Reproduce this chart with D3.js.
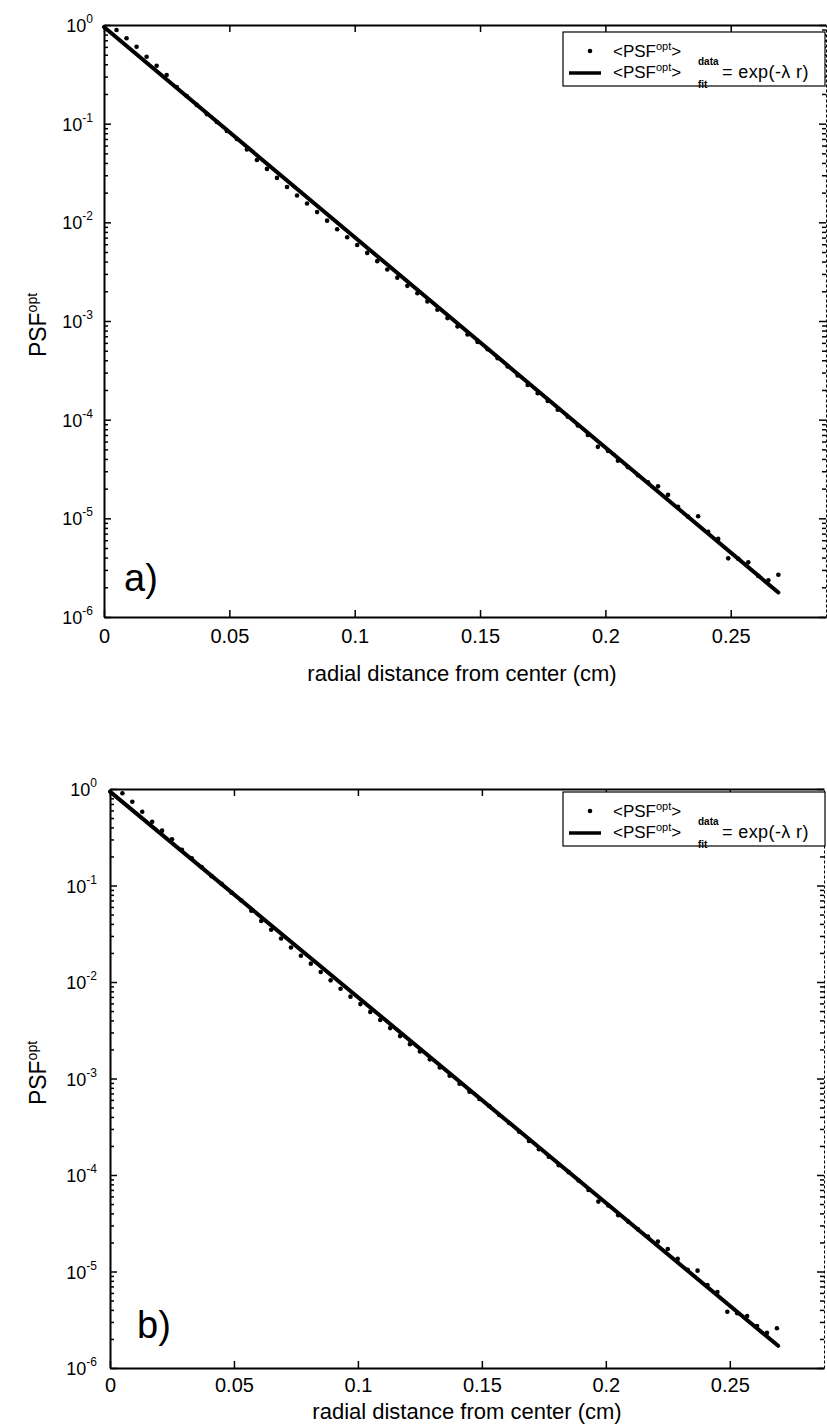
<!DOCTYPE html>
<html>
<head>
<meta charset="utf-8">
<script src="https://cdn.jsdelivr.net/npm/d3@7"></script>
<style>
  body { margin: 0; background: #fff; }
  svg { display: block; font-family: "Liberation Sans", Arial, sans-serif; }
</style>
</head>
<body>
<svg id="chart" width="827" height="1428"></svg>
<script>
// radial distance of each measured point (cm)
const radius = [0.005, 0.009, 0.013, 0.017, 0.021, 0.025, 0.029, 0.033, 0.037, 0.041, 0.045, 0.049,
  0.053, 0.057, 0.061, 0.065, 0.069, 0.073, 0.077, 0.081, 0.085, 0.089, 0.093, 0.097,
  0.101, 0.105, 0.109, 0.113, 0.117, 0.121, 0.125, 0.129, 0.133, 0.137, 0.141, 0.145,
  0.149, 0.153, 0.157, 0.161, 0.165, 0.169, 0.173, 0.177, 0.181, 0.185, 0.189, 0.193,
  0.197, 0.201, 0.205, 0.209, 0.213, 0.217, 0.221, 0.225, 0.229, 0.233, 0.237, 0.241,
  0.245, 0.249, 0.253, 0.257, 0.261, 0.265, 0.269];

// <PSF opt> data, panel a
const psfDataA = [0.890, 0.733, 0.603, 0.477, 0.387, 0.311, 0.235, 0.191, 0.155, 0.125, 0.104, 0.0843,
  0.0700, 0.0548, 0.0429, 0.0348, 0.0282, 0.0228, 0.0187, 0.0155, 0.0127, 0.0104, 0.00851, 0.00705,
  0.00590, 0.00490, 0.00404, 0.00333, 0.00275, 0.00227, 0.00191, 0.00158, 0.00130, 0.00107, 8.81e-4, 7.31e-4,
  6.14e-4, 5.18e-4, 4.19e-4, 3.46e-4, 2.81e-4, 2.25e-4, 1.85e-4, 1.55e-4, 1.26e-4, 1.07e-4, 8.75e-5, 7.01e-5,
  5.30e-5, 4.83e-5, 3.83e-5, 3.29e-5, 2.73e-5, 2.32e-5, 2.11e-5, 1.73e-5, 1.31e-5, 1.04e-5, 1.05e-5, 7.30e-6,
  6.19e-6, 3.93e-6, 3.89e-6, 3.58e-6, 2.61e-6, 2.36e-6, 2.68e-6];

// <PSF opt> data, panel b
const psfDataB = [0.902, 0.739, 0.582, 0.458, 0.370, 0.301, 0.235, 0.191, 0.155, 0.125, 0.104, 0.0843,
  0.0700, 0.0548, 0.0429, 0.0348, 0.0282, 0.0228, 0.0187, 0.0155, 0.0127, 0.0104, 0.00851, 0.00705,
  0.00590, 0.00490, 0.00404, 0.00333, 0.00275, 0.00227, 0.00191, 0.00158, 0.00130, 0.00107, 8.81e-4, 7.31e-4,
  6.14e-4, 5.18e-4, 4.19e-4, 3.46e-4, 2.81e-4, 2.25e-4, 1.85e-4, 1.55e-4, 1.26e-4, 1.07e-4, 8.75e-5, 7.01e-5,
  5.30e-5, 4.83e-5, 3.83e-5, 3.29e-5, 2.73e-5, 2.30e-5, 2.04e-5, 1.71e-5, 1.35e-5, 1.04e-5, 1.02e-5, 7.24e-6,
  6.14e-6, 3.83e-6, 3.70e-6, 3.46e-6, 2.72e-6, 2.31e-6, 2.58e-6];

// fitted exp(-lambda r), straight on the log axis
const fitRadiusA = [0, 0.269];
const psfFitA = [0.955, 1.77e-6];
const fitRadiusB = [0, 0.2695];
const psfFitB = [0.94, 1.70e-6];

const xTicks = [0, 0.05, 0.1, 0.15, 0.2, 0.25];
const xTickLabels = ['0', '0.05', '0.1', '0.15', '0.2', '0.25'];
const yExponents = [0, -1, -2, -3, -4, -5, -6];
const panelLabels = ['a)', 'b)'];
const xTitle = 'radial distance from center (cm)';

const svg = d3.select('#chart');
svg.append('rect').attr('width', 827).attr('height', 1428).attr('fill', '#fff');

function drawPanel(p) {
  const g = svg.append('g');
  const x = d3.scaleLinear().domain([0, 0.288]).range([p.left, p.right]);
  const y = d3.scaleLog().domain([1e-6, 1]).range([p.bottom, p.top]);
  const major = yExponents.map(e => Math.pow(10, e));
  const minor = y.ticks().filter(v => !major.some(m => Math.abs(Math.log10(v) - Math.log10(m)) < 1e-6));

  // frame + ticks (inward)
  const bottomAxis = g.append('g').attr('transform', `translate(0,${p.bottom})`)
    .call(d3.axisBottom(x).tickValues(xTicks).tickSize(-7).tickSizeOuter(0)
      .tickPadding(p.xPad).tickFormat((d, i) => xTickLabels[i]));
  bottomAxis.selectAll('text').attr('font-size', 20).attr('fill', '#000')
    .attr('font-family', '"Liberation Sans", Arial, sans-serif');
  g.append('g').attr('transform', `translate(0,${p.top})`)
    .call(d3.axisTop(x).tickValues(xTicks).tickSize(-7).tickSizeOuter(0).tickFormat(''));
  g.append('g').attr('transform', `translate(${p.left},0)`)
    .call(d3.axisLeft(y).tickValues(major).tickSize(-7).tickSizeOuter(0).tickFormat(''));
  g.append('g').attr('transform', `translate(${p.left},0)`)
    .call(d3.axisLeft(y).tickValues(minor).tickSize(-4).tickSizeOuter(0).tickFormat(''))
    .select('.domain').remove();
  const right = g.append('g').attr('transform', `translate(${p.right},0)`)
    .call(d3.axisRight(y).tickValues(major).tickSize(-7).tickSizeOuter(0).tickFormat(''));
  g.append('g').attr('transform', `translate(${p.right},0)`)
    .call(d3.axisRight(y).tickValues(minor).tickSize(-4).tickSizeOuter(0).tickFormat(''))
    .select('.domain').remove();
  g.selectAll('.domain').attr('stroke', '#000').attr('stroke-width', 2);
  right.select('.domain').attr('stroke-width', 1).attr('stroke-dasharray', '3,2');
  g.selectAll('.tick line').attr('stroke', '#000').attr('stroke-width', 1.5);

  // y tick labels 10^n
  const yl = g.append('g').selectAll('text').data(yExponents).enter().append('text')
    .attr('x', p.left - p.yGap).attr('y', d => y(Math.pow(10, d)) + 7)
    .attr('text-anchor', 'end').attr('font-size', 18).attr('fill', '#000');
  yl.append('tspan').text('10');
  yl.append('tspan').attr('dy', -9).attr('font-size', 12).text(d => d);

  // data points
  g.append('g').selectAll('circle').data(p.data).enter().append('circle')
    .attr('cx', (d, i) => x(radius[i])).attr('cy', d => y(d)).attr('r', 2.3).attr('fill', '#000');

  // fit line
  const line = d3.line().x(d => x(d[0])).y(d => y(d[1]));
  g.append('path').datum(p.fitR.map((r, i) => [r, p.fit[i]]))
    .attr('d', line).attr('fill', 'none').attr('stroke', '#000')
    .attr('stroke-width', 4).attr('stroke-linecap', 'round');

  // panel label
  g.append('text').attr('x', p.labelX).attr('y', p.labelY).attr('font-size', 38).text(p.label);

  // axis titles
  g.append('text').attr('x', p.xTitleX).attr('y', p.xTitleY).attr('text-anchor', 'middle')
    .attr('font-size', 22).text(xTitle);
  const yt = g.append('text').attr('transform', `translate(46,${p.yTitleY}) rotate(-90)`)
    .attr('text-anchor', 'middle').attr('font-size', 23);
  yt.append('tspan').text('PSF');
  yt.append('tspan').attr('dy', -9).attr('font-size', 14).text('opt');

  // legend
  const lg = g.append('g').attr('transform', `translate(563,${p.legendTop})`);
  lg.append('rect').attr('width', 262).attr('height', 54)
    .attr('fill', '#fff').attr('stroke', '#000').attr('stroke-width', 1.2);
  lg.append('circle').attr('cx', 27).attr('cy', 19).attr('r', 2.3).attr('fill', '#000');
  lg.append('line').attr('x1', 6).attr('x2', 38).attr('y1', 41).attr('y2', 41)
    .attr('stroke', '#000').attr('stroke-width', 3.5);
  const rows = [['data', 25, 8], ['fit', 46, 10]];
  rows.forEach(([sub, by, sdy]) => {
    const t = lg.append('text').attr('x', 50).attr('y', by).attr('font-size', 17);
    t.append('tspan').text('<PSF');
    t.append('tspan').attr('dy', -7).attr('font-size', 11).text('opt');
    t.append('tspan').attr('dy', 7).text('>');
    t.append('tspan').attr('x', 135).attr('dy', sdy)
      .attr('font-size', 10).attr('font-weight', 'bold').text(sub);
  });
  lg.append('text').attr('x', 159).attr('y', 46).attr('font-size', 18)
    .attr('letter-spacing', 0.4).text('= exp(-λ r)');
}

drawPanel({
  left: 104, right: 826, top: 25, bottom: 617, xPad: 12, yGap: 11,
  data: psfDataA, fitR: fitRadiusA, fit: psfFitA, label: panelLabels[0],
  labelX: 124, labelY: 591, xTitleX: 462, xTitleY: 681, yTitleY: 325, legendTop: 32
});
drawPanel({
  left: 110, right: 824, top: 789, bottom: 1368, xPad: 10, yGap: 13,
  data: psfDataB, fitR: fitRadiusB, fit: psfFitB, label: panelLabels[1],
  labelX: 137, labelY: 1338, xTitleX: 467, xTitleY: 1419, yTitleY: 1073, legendTop: 792
});
</script>
</body>
</html>
